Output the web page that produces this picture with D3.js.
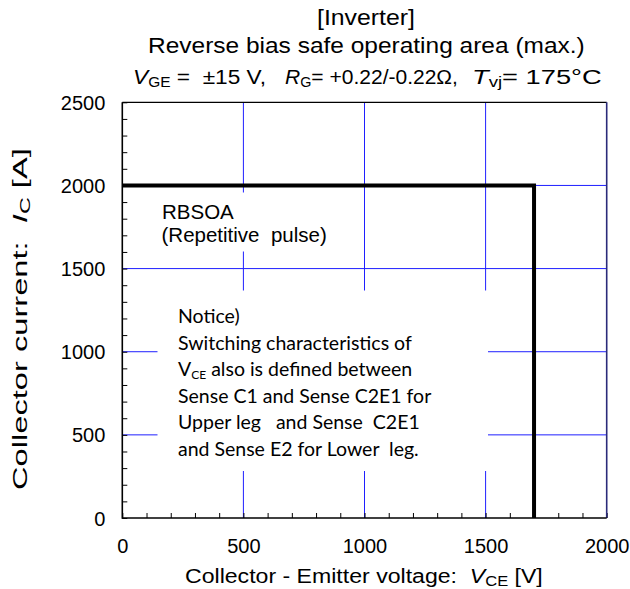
<!DOCTYPE html>
<html><head><meta charset="utf-8">
<script src="https://cdn.jsdelivr.net/npm/d3@7"></script>
<style>
html,body{margin:0;padding:0;background:#fff;}
svg{display:block;}
text{font-family:"Liberation Sans",Arial,sans-serif;fill:#000;white-space:pre;}
.note{font-family:Lato,"Open Sans",sans-serif;}
</style></head>
<body>
<script>
// ---- data ----
const xMajorTicks = [0, 500, 1000, 1500, 2000];
const yMajorTicks = [0, 500, 1000, 1500, 2000, 2500];
const xDomain = [0, 2000];
const yDomain = [0, 2500];
const minorStep = 100;
const rbsoaVce = [0, 1700, 1700];
const rbsoaIc  = [2000, 2000, 0];
const titleLines = ["[Inverter]", "Reverse bias safe operating area (max.)"];
const noteLines = [
  [{t:"Notice)"}],
  [{t:"Switching characteristics of"}],
  [{t:"V"},{t:"CE",sub:true},{t:" also is defined between"}],
  [{t:"Sense C1 and Sense C2E1 for"}],
  [{t:"Upper leg   and Sense  C2E1"}],
  [{t:"and Sense E2 for Lower  leg."}]
];

(function(){
const W = 630, H = 589;
const pL = 122.3, pR = 606.7, pT = 102.3, pB = 518;

const svg = d3.select("body").append("svg").attr("width", W).attr("height", H);
const x = d3.scaleLinear().domain(xDomain).range([pL, pR]);
const y = d3.scaleLinear().domain(yDomain).range([pB, pT]);

// horizontally fit a text (inside its own group) between x0 and x1
function fitBetween(gSel, x0, x1) {
  const bb = gSel.node().getBBox();
  const sx = (x1 - x0) / bb.width;
  gSel.attr("transform", `translate(${x0},0) scale(${sx},1) translate(${-bb.x},0)`);
}

const blue = "#1f1fff";
// grid
const g = svg.append("g");
g.selectAll("line.vx").data(xMajorTicks.filter(d => d > 0 && d < 2000)).join("line")
  .attr("x1", d => x(d)).attr("x2", d => x(d)).attr("y1", pT).attr("y2", pB)
  .attr("stroke", blue).attr("stroke-width", 1);
g.selectAll("line.hy").data(yMajorTicks.filter(d => d > 0 && d < 2500)).join("line")
  .attr("x1", pL).attr("x2", pR).attr("y1", d => y(d)).attr("y2", d => y(d))
  .attr("stroke", blue).attr("stroke-width", 1);

// white label backgrounds
svg.append("rect").attr("x", 126).attr("y", 192.5).attr("width", 230).attr("height", 59).attr("fill", "#fff");
svg.append("rect").attr("x", 157.5).attr("y", 290.5).attr("width", 330.5).attr("height", 180.5).attr("fill", "#fff");

// minor ticks
const xMinor = d3.range(xDomain[0], xDomain[1] + 1, minorStep);
const yMinor = d3.range(yDomain[0], yDomain[1] + 1, minorStep);
svg.append("g").attr("transform", `translate(0,${pB})`)
  .call(d3.axisBottom(x).tickValues(xMinor).tickSize(-5).tickFormat(""))
  .call(a => a.select(".domain").remove())
  .call(a => a.selectAll("line").attr("stroke", "#000").attr("stroke-width", 1));
svg.append("g").attr("transform", `translate(${pL},0)`)
  .call(d3.axisLeft(y).tickValues(yMinor).tickSize(-5).tickFormat(""))
  .call(a => a.select(".domain").remove())
  .call(a => a.selectAll("line").attr("stroke", "#000").attr("stroke-width", 1));

// RBSOA boundary
const pts = rbsoaVce.map((v, i) => [v, rbsoaIc[i]]);
svg.append("path").datum(pts)
  .attr("d", d3.line().x(d => x(d[0])).y(d => y(d[1])))
  .attr("fill", "none").attr("stroke", "#000").attr("stroke-width", 4)
  .attr("stroke-linejoin", "miter");

// frame
svg.append("line").attr("x1", pL).attr("x2", pR).attr("y1", pT).attr("y2", pT).attr("stroke", "#000").attr("stroke-width", 1.2);
svg.append("line").attr("x1", pR).attr("x2", pR).attr("y1", pT).attr("y2", pB).attr("stroke", "#2b2b7a").attr("stroke-width", 1.6);
svg.append("line").attr("x1", pL).attr("x2", pL).attr("y1", pT).attr("y2", pB + 0.8).attr("stroke", "#000").attr("stroke-width", 1.6);
svg.append("line").attr("x1", pL).attr("x2", pR).attr("y1", pB).attr("y2", pB).attr("stroke", "#000").attr("stroke-width", 1.6);

// tick labels
svg.append("g").attr("transform", `translate(0,${pB})`)
  .call(d3.axisBottom(x).tickValues(xMajorTicks).tickSize(0).tickPadding(0).tickFormat(d3.format("d")))
  .call(a => a.select(".domain").remove())
  .call(a => a.selectAll("text").attr("font-size", 20).attr("font-family", "Liberation Sans, Arial, sans-serif")
    .attr("fill", "#000").attr("dy", null).attr("y", 35));
svg.append("g").attr("transform", `translate(${pL},0)`)
  .call(d3.axisLeft(y).tickValues(yMajorTicks).tickSize(0).tickPadding(17).tickFormat(d3.format("d")))
  .call(a => a.select(".domain").remove())
  .call(a => a.selectAll("text").attr("font-size", 20).attr("font-family", "Liberation Sans, Arial, sans-serif")
    .attr("fill", "#000").attr("dy", "0.35em"));

// titles
const t1 = svg.append("g");
t1.append("text").attr("x", 0).attr("y", 25).attr("font-size", 22).text(titleLines[0]);
fitBetween(t1, 317, 415);
const t2 = svg.append("g");
t2.append("text").attr("x", 0).attr("y", 53).attr("font-size", 22).text(titleLines[1]);
fitBetween(t2, 148, 585);

function cond(x0, x1, parts) {
  const gg = svg.append("g");
  const t = gg.append("text").attr("x", 0).attr("y", 84).attr("font-size", 20.5);
  parts.forEach(p => {
    const s = t.append("tspan").text(p.t);
    if (p.it) s.attr("font-style", "italic");
    if (p.sub) s.attr("font-size", 14).attr("dy", 3);
    if (p.up) s.attr("dy", -3);
  });
  fitBetween(gg, x0, x1);
}
cond(133, 266, [{t:"V", it:true}, {t:"GE", sub:true}, {t:" =  \u00b115 V,", up:true}]);
cond(285, 458, [{t:"R", it:true}, {t:"G", sub:true}, {t:"= +0.22/-0.22\u03a9,", up:true}]);
cond(472, 602, [{t:"T", it:true}, {t:"vj", sub:true}, {t:"= 175\u00b0C", up:true}]);

// axis titles
const xg = svg.append("g");
const xl = xg.append("text").attr("x", 0).attr("y", 583).attr("font-size", 21);
xl.append("tspan").text("Collector - Emitter voltage:  ");
xl.append("tspan").text("V").attr("font-style", "italic");
xl.append("tspan").text("CE").attr("font-size", 15).attr("dy", 3);
xl.append("tspan").text(" [V]").attr("dy", -3);
fitBetween(xg, 185, 543);

const yOuter = svg.append("g").attr("transform", "translate(27,319) rotate(-90)");
const yg = yOuter.append("g");
const yl = yg.append("text").attr("x", 0).attr("y", 0).attr("font-size", 21);
yl.append("tspan").text("Collector current:  ");
yl.append("tspan").text("I").attr("font-style", "italic");
yl.append("tspan").text("C").attr("font-size", 15).attr("dy", 3);
yl.append("tspan").text(" [A]").attr("dy", -3);
fitBetween(yg, -171, 171);

// RBSOA annotation
svg.append("text").attr("x", 162).attr("y", 218.5).attr("font-size", 20.5).text("RBSOA");
svg.append("text").attr("x", 161.5).attr("y", 242).attr("font-size", 20.5).text("(Repetitive  pulse)");

// notice
noteLines.forEach((parts, i) => {
  const t = svg.append("text").attr("class", "note").attr("x", 178).attr("y", 323.3 + i * 26.5).attr("font-size", 19.5);
  parts.forEach(p => {
    const s = t.append("tspan").text(p.t);
    if (p.sub) s.attr("font-size", 12).attr("dy", 3);
    else if (i === 2 && p.t.startsWith(" ")) s.attr("dy", -3);
  });
});
})();
</script>
</body></html>
